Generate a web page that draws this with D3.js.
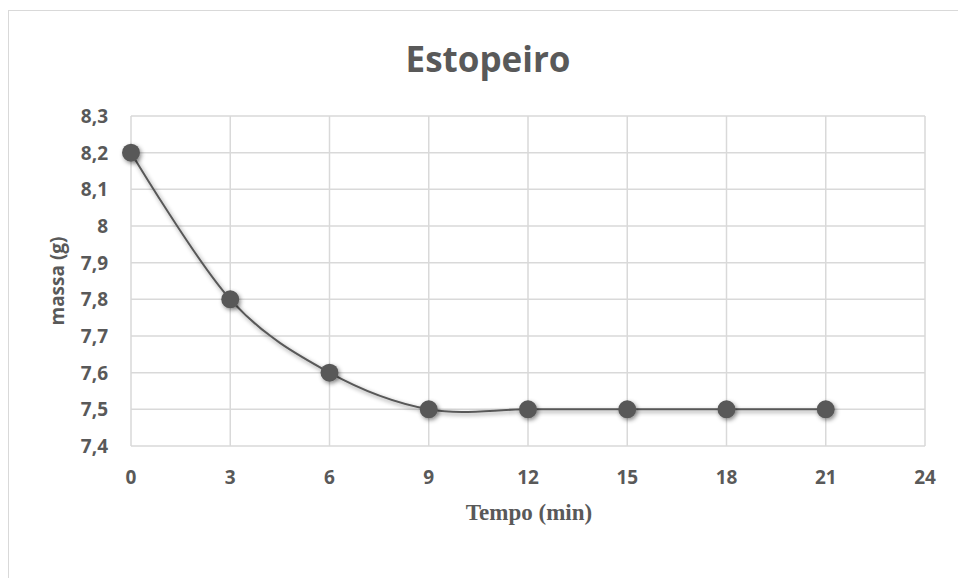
<!DOCTYPE html>
<html><head><meta charset="utf-8">
<script src="https://cdn.jsdelivr.net/npm/d3@7"></script>
<style>body{margin:0;background:#fff}svg{display:block}</style>
</head><body>
<script>
const times = [0, 3, 6, 9, 12, 15, 18, 21];
const massa = [8.2, 7.8, 7.6, 7.5, 7.5, 7.5, 7.5, 7.5];
const xTicks = [0, 3, 6, 9, 12, 15, 18, 21, 24];
const yTicks = [7.4, 7.5, 7.6, 7.7, 7.8, 7.9, 8.0, 8.1, 8.2, 8.3];
const yTickLabels = ["7,4","7,5","7,6","7,7","7,8","7,9","8","8,1","8,2","8,3"];

const W = 958, H = 578;
const svg = d3.select("body").append("svg").attr("width", W).attr("height", H);
const defs = svg.append("defs");
const f = defs.append("filter").attr("id","sh").attr("x","-50%").attr("y","-50%").attr("width","200%").attr("height","200%");
f.append("feDropShadow").attr("dx",1.5).attr("dy",2).attr("stdDeviation",2).attr("flood-color","#000").attr("flood-opacity",0.45);

// chart border
svg.append("rect").attr("x",8.5).attr("y",10.5).attr("width",W+20).attr("height",H+20)
  .attr("fill","#fff").attr("stroke","#d9d9d9").attr("stroke-width",1);

const x = d3.scaleLinear().domain([0,24]).range([131,925]);
const y = d3.scaleLinear().domain([7.4,8.3]).range([446,116]);

const grid = svg.append("g");
grid.selectAll("line.h").data(yTicks).join("line")
  .attr("x1",x(0)).attr("x2",x(24)).attr("y1",d=>y(d)).attr("y2",d=>y(d))
  .attr("stroke","#d9d9d9").attr("stroke-width",1.5);
grid.selectAll("line.v").data(xTicks).join("line")
  .attr("y1",y(7.4)).attr("y2",y(8.3)).attr("x1",d=>x(d)).attr("x2",d=>x(d))
  .attr("stroke","#d9d9d9").attr("stroke-width",1.5);

const fontSans = "'Open Sans', 'Noto Sans', sans-serif";
const txtCol = "#595959";

// y tick labels
svg.append("g").selectAll("text").data(yTicks).join("text")
  .attr("x",108).attr("y",d=>y(d)).attr("dy","0.36em")
  .attr("text-anchor","end").attr("font-family",fontSans).attr("font-weight","bold")
  .attr("font-size",19).attr("fill",txtCol).text((d,i)=>yTickLabels[i]);

// x tick labels
svg.append("g").selectAll("text").data(xTicks).join("text")
  .attr("x",d=>x(d)).attr("y",484)
  .attr("text-anchor","middle").attr("font-family",fontSans).attr("font-weight","bold")
  .attr("font-size",19).attr("fill",txtCol).text(d=>d);

// title
svg.append("text").attr("x",488).attr("y",72).attr("text-anchor","middle")
  .attr("font-family",fontSans).attr("font-weight","bold").attr("font-size",35)
  .attr("fill",txtCol).text("Estopeiro");

// y axis title
svg.append("text").attr("transform","translate(64,281) rotate(-90)").attr("text-anchor","middle")
  .attr("font-family",fontSans).attr("font-weight","bold").attr("font-size",19)
  .attr("fill",txtCol).text("massa (g)");

// x axis title
svg.append("text").attr("x",529).attr("y",520).attr("text-anchor","middle")
  .attr("font-family","'Liberation Serif', serif").attr("font-weight","bold").attr("font-size",23)
  .attr("fill",txtCol).text("Tempo (min)");

const data = times.map((t,i)=>({t, m: massa[i]}));
const line = d3.line().x(d=>x(d.t)).y(d=>y(d.m)).curve(d3.curveCatmullRom.alpha(0));
svg.append("path").datum(data).attr("d",line).attr("fill","none")
  .attr("stroke","#595959").attr("stroke-width",2).attr("filter","url(#sh)");

svg.append("g").selectAll("circle").data(data).join("circle")
  .attr("cx",d=>x(d.t)).attr("cy",d=>y(d.m)).attr("r",9)
  .attr("fill","#595959").attr("filter","url(#sh)");
</script>
</body></html>
